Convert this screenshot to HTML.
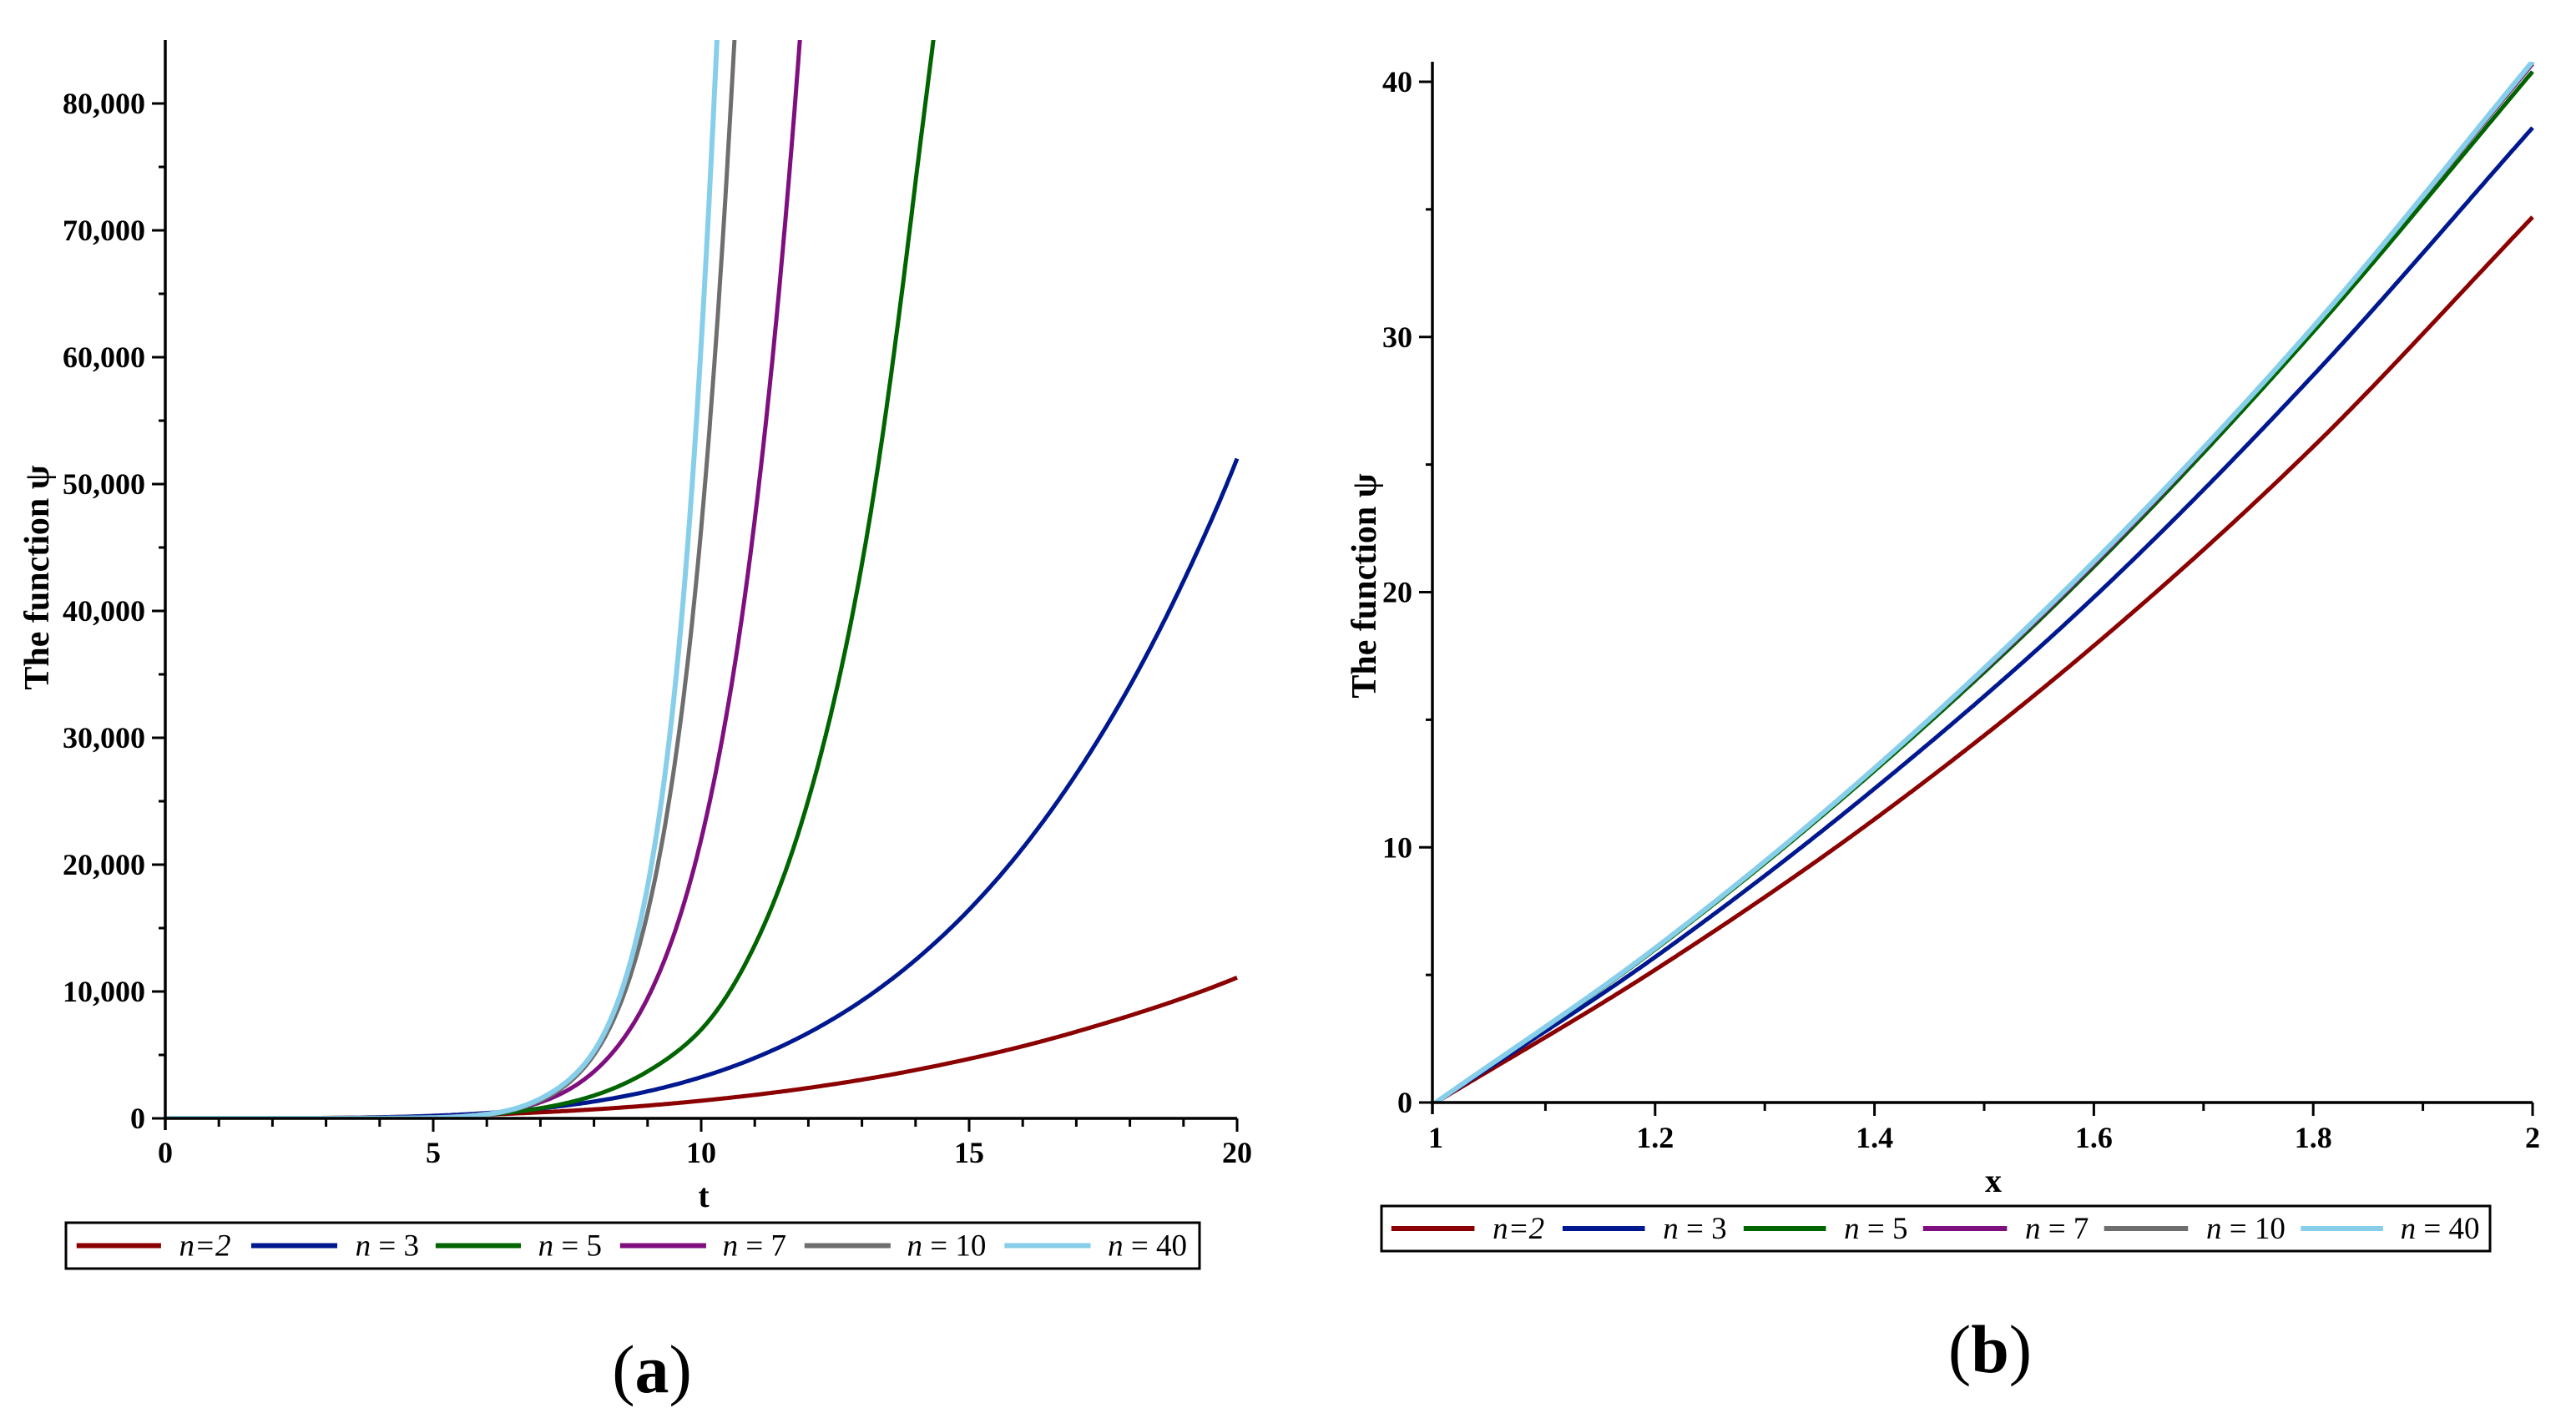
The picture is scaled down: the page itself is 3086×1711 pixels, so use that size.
<!DOCTYPE html>
<html><head><meta charset="utf-8"><style>
html,body{margin:0;padding:0;background:#fff;}
svg{display:block;font-family:"Liberation Serif",serif;}
</style></head><body>
<svg id="s" width="3086" height="1711" viewBox="0 0 3086 1711" xmlns="http://www.w3.org/2000/svg">
<defs>
<clipPath id="ca"><rect x="198" y="48" width="1290" height="1292"/></clipPath>
<clipPath id="cb"><rect x="1716" y="74" width="1322" height="1247"/></clipPath>
</defs>
<g id="pa"></g>
<g id="pb"></g>
</svg>
<script>
// Panel (a) data
const seriesNames = ['n=2','n = 3','n = 5','n = 7','n = 10','n = 40'];
const colors = ['#8b0000','#00188f','#006400','#7f0f7e','#6e6e6e','#87ceeb'];
const aN2 = [[0,0],[2,11],[4,90],[5,170],[6,300],[7,477],[8,710],[10,1390],[12,2400],[14,3810],[15,4690],[17,6830],[18,8100],[20,11100]];
const aN3 = [[0,0],[2,5],[4,83],[5,203],[6,420],[7,780],[8,1330],[9,2130],[10,3250],[11,4760],[12,6740],[13,9280],[14,12490],[15,16450],[16,21300],[17,27150],[18,34100],[19,42350],[20,52000]];
const aN5 = [[0,0],[3,5],[4,20],[5,70],[6,300],[7,800],[8,1800],[9,3700],[10,7000],[11,13650],[12,25100],[13,43700],[14,73800],[14.5,91000]];
const aN7 = [[0,0],[3,3],[4,20],[5,86],[6,370],[7,1270],[8,3690],[9,9470],[10,22000],[11,47200],[11.5,67400],[12,94600]];
const aN10 = [[0,0],[3,3],[4,20],[5,50],[6,300],[7,1400],[8,5000],[9,16200],[10,46500],[10.5,76000],[10.8,100000]];
const aN40 = [[0,0],[3,3],[4,20],[5,50],[6,330],[7,1550],[8,5300],[9,18300],[9.5,33500],[10,61000],[10.25,81000],[10.5,105000]];
const seriesA = [aN2,aN3,aN5,aN7,aN10,aN40];
const yTicksA = ['0','10,000','20,000','30,000','40,000','50,000','60,000','70,000','80,000'];
const xTicksA = ['0','5','10','15','20'];
// Panel (b) data
const bN2 = [[1,0],[1.2,5.2],[1.4,11.1],[1.6,17.9],[1.8,25.7],[2,34.7]];
const bN3 = [[1,0],[1.2,5.7],[1.4,12.3],[1.6,19.8],[1.8,28.5],[2,38.2]];
const bN5 = [[1,0],[1.2,6.0],[1.4,13.0],[1.6,21.0],[1.8,30.2],[2,40.4]];
const bN7 = [[1,0],[1.2,6.05],[1.4,13.1],[1.6,21.1],[1.8,30.4],[2,40.7]];
const bN10 = [[1,0],[1.2,6.05],[1.4,13.1],[1.6,21.15],[1.8,30.4],[2,40.75]];
const bN40 = [[1,0],[1.2,6.05],[1.4,13.1],[1.6,21.2],[1.8,30.4],[2,40.8]];
const seriesB = [bN2,bN3,bN5,bN7,bN10,bN40];
const yTicksB = ['0','10','20','30','40'];
const xTicksB = ['1','1.2','1.4','1.6','1.8','2'];

const NS='http://www.w3.org/2000/svg';
function mk(parent, tag, attrs, text){const e=document.createElementNS(NS,tag);for(const k in attrs)e.setAttribute(k,attrs[k]);if(text!==undefined)e.textContent=text;parent.appendChild(e);return e;}
function monoFn(xs, ys){
  const n=xs.length,d=[],m=[];
  for(let i=0;i<n-1;i++)d.push((ys[i+1]-ys[i])/(xs[i+1]-xs[i]));
  m[0]=d[0];m[n-1]=d[n-2];
  for(let i=1;i<n-1;i++)m[i]=(d[i-1]*d[i]<=0)?0:(d[i-1]+d[i])/2;
  for(let i=0;i<n-1;i++){if(d[i]===0){m[i]=m[i+1]=0;continue;}const a=m[i]/d[i],b=m[i+1]/d[i],s=a*a+b*b;if(s>9){const t=3/Math.sqrt(s);m[i]=t*a*d[i];m[i+1]=t*b*d[i];}}
  return function(x){
    let i=0;while(i<n-2&&x>xs[i+1])i++;
    const h=xs[i+1]-xs[i],t=(x-xs[i])/h,t2=t*t,t3=t2*t;
    return (2*t3-3*t2+1)*ys[i]+(t3-2*t2+t)*h*m[i]+(-2*t3+3*t2)*ys[i+1]+(t3-t2)*h*m[i+1];
  };
}
function panel(g, cfg){
  const X=v=>cfg.x0+(v-cfg.xmin)/(cfg.xmax-cfg.xmin)*(cfg.x1-cfg.x0);
  const Y=v=>cfg.y0-(v-cfg.ymin)/(cfg.ymax-cfg.ymin)*(cfg.y0-cfg.y1);
  const sg=mk(g,'g',{'clip-path':'url(#'+cfg.clip+')'});
  
  
  cfg.series.forEach((s,i)=>{
    const xs=s.map(q=>q[0]);
    const ys=s.map(q=>cfg.log?Math.log(q[1]+cfg.log):q[1]);
    const f=monoFn(xs,ys);
    const x0=xs[0],x1=xs[xs.length-1],N=500;
    let d='';
    for(let k=0;k<=N;k++){const x=x0+(x1-x0)*k/N;let y=f(x);if(cfg.log)y=Math.exp(y)-cfg.log;
      d+=(k?'L':'M')+X(x).toFixed(1)+','+Y(y).toFixed(1);}
    const p=mk(sg,'path',{d:d,fill:'none',stroke:colors[i],'stroke-width':i===5?6:5,'stroke-linejoin':'round'});
    
    
  });
  const ax=mk(g,'path',{d:'M'+cfg.axX+','+cfg.axTop+' V'+(cfg.y0+14)+' M'+(cfg.axX-2)+','+cfg.y0+' H'+cfg.x1,stroke:'#000','stroke-width':3.5,fill:'none'});
  
  
  let tk='';
  const ny=cfg.yTicks.length;
  for(let i=0;i<ny;i++){const v=cfg.ymin+i*cfg.ystep;tk+='M'+(cfg.axX-16)+','+Y(v)+' H'+cfg.axX+' ';
    const vm=v+cfg.ystep/2;if(Y(vm)>cfg.axTop)tk+='M'+(cfg.axX-8)+','+Y(vm)+' H'+cfg.axX+' ';
    const t=mk(g,'text',{x:cfg.axX-24,y:Y(v)+12,'text-anchor':'end','font-size':36,'font-weight':'bold'},cfg.yTicks[i]);
    
    }
  for(let v=cfg.xmin;v<=cfg.xmax+1e-9;v+=cfg.xminor){const major=Math.abs(Math.round((v-cfg.xmin)/cfg.xstep)*cfg.xstep-(v-cfg.xmin))<1e-6;
    if(v>cfg.xmin+1e-9)tk+='M'+X(v)+','+cfg.y0+' V'+(cfg.y0+(major?16:10))+' ';}
  cfg.xTicks.forEach((l,i)=>{const t=mk(g,'text',{x:X(cfg.xmin+i*cfg.xstep),y:cfg.xlabY,'text-anchor':'middle','font-size':36,'font-weight':'bold'},l);
    
    });
  const tp=mk(g,'path',{d:tk,stroke:'#000','stroke-width':3,fill:'none'});
  
  
  const xt=mk(g,'text',{x:cfg.xtX,y:cfg.xtY,'text-anchor':'middle','font-size':40,'font-weight':'bold'},cfg.xTitle);
  
  
  const yt=mk(g,'text',{x:0,y:0,transform:'translate('+cfg.ytX+','+cfg.ytY+') rotate(-90)','text-anchor':'middle','font-size':42,'font-weight':'bold'},'The function ψ');
  
  
  const lg=mk(g,'g',{});
  
  
  const L=cfg.leg;
  mk(lg,'rect',{x:L.x,y:L.y,width:L.w,height:L.h,fill:'#fff',stroke:'#000','stroke-width':3});
  const cy=L.y+L.h/2;
  L.items.forEach((it,i)=>{
    const ln=mk(lg,'line',{x1:it[0],x2:it[1],y1:cy,y2:cy,stroke:colors[i],'stroke-width':6});
    
    
    const lab=seriesNames[i];
    const t=mk(lg,'text',{x:it[2],y:cy+12,'font-size':37});
    
    
    if(i===0){mk(t,'tspan',{'font-style':'italic'},'n=2');}
    else{mk(t,'tspan',{'font-style':'italic'},'n');mk(t,'tspan',{},' = '+lab.split('= ')[1]);}
  });
  const cap=mk(g,'text',{x:cfg.capX,y:cfg.capY,'text-anchor':'middle','font-size':82});
  
  
  mk(cap,'tspan',{},'(');mk(cap,'tspan',{'font-weight':'bold'},cfg.cap);mk(cap,'tspan',{},')');
}
const sa=0.982, sb=0.986;
panel(document.getElementById('pa'),{
  x0:198,x1:1482,xmin:0,xmax:20,y0:1340,y1:124,ymin:0,ymax:80000,axX:198,axTop:48,ystep:10000,xstep:5,xminor:1,log:50,
  series:seriesA,yTicks:yTicksA,xTicks:xTicksA,clip:'ca',xlabY:1393,xTitle:'t',xtX:843,xtY:1446,ytX:58,ytY:692,
  leg:{x:79,y:1465,w:1358,h:55,items:[[90,193,215],[303,408,430],[528,632,653],[753,858,878],[978,1083,1103],[1222,1327,1348]].map(a=>[79+(a[0]-77)*sa,79+(a[1]-77)*sa,79+(a[2]-77)*sa])},
  cap:'a',capX:781,capY:1668
});
panel(document.getElementById('pb'),{
  x0:1720,x1:3034,xmin:1,xmax:2,y0:1321,y1:98,ymin:0,ymax:40,axX:1716,axTop:74,ystep:10,xstep:0.2,xminor:0.1,log:0,
  series:seriesB,yTicks:yTicksB,xTicks:xTicksB,clip:'cb',xlabY:1375,xTitle:'x',xtX:2388,xtY:1428,ytX:1648,ytY:702,
  leg:{x:1655,y:1445,w:1328,h:54,items:[[127,228,250],[335,435,457],[555,655,677],[773,875,897],[993,1095,1117],[1232,1332,1353]].map(a=>[1655+(a[0]-115)*sb,1655+(a[1]-115)*sb,1655+(a[2]-115)*sb])},
  cap:'b',capX:2384,capY:1644
});
</script>
</body></html>
